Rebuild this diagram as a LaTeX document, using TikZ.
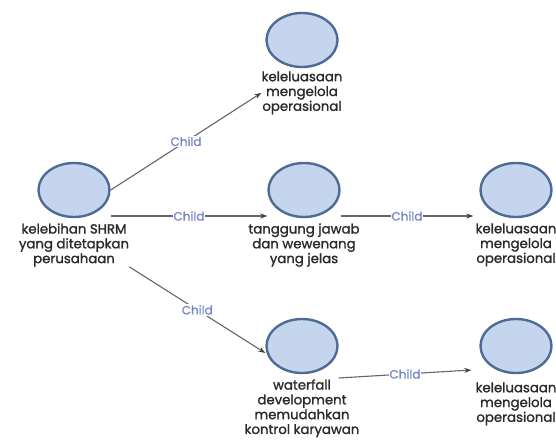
\documentclass[tikz,border=0pt]{standalone}
\usepackage{fontspec}
\setmainfont{Poppins}
\newfontfamily\medfont{Poppins}[FakeBold=1.3]
\newfontfamily\chfont{Poppins}[FakeBold=0.8]
\usetikzlibrary{shapes.geometric,arrows.meta,calc}
\definecolor{efill}{HTML}{C5D5EE}
\definecolor{edraw}{HTML}{4D6B94}
\definecolor{lblue}{HTML}{7585C8}
\definecolor{ltext}{HTML}{2A2A2A}
\definecolor{eline}{HTML}{666666}
\definecolor{ahead}{HTML}{3A463C}
\begin{document}
\begin{tikzpicture}[x=1pt,y=-1pt,
  circ/.style={ellipse, draw=edraw, fill=efill, line width=2.4pt, minimum width=71pt, minimum height=54pt, inner sep=0pt},
  lbl/.style={align=center, inner sep=0pt, text=ltext, font=\medfont\fontsize{13.3}{14.8}\selectfont, anchor=north},
  edge/.style={draw=eline, line width=1.1pt, -{Stealth[length=7pt,width=5pt,color=ahead]}},
  child/.style={fill=white, text=lblue, inner sep=1pt, font=\chfont\fontsize{12}{13}\selectfont}]
\useasboundingbox (0,0) rectangle (556,440);
\fill[white] (0,0) rectangle (556,440);
\node[circ] (e0) at (74,190) {};
\node[lbl] (l0) at ([yshift=-5pt]e0.south) {kelebihan SHRM\\yang ditetapkan\\perusahaan};
\node[circ] (e1) at (302,40) {};
\node[lbl] (l1) at ([yshift=-3pt]e1.south) {keleluasaan\\mengelola\\operasional};
\node[circ] (e2) at (304,190) {};
\node[lbl] (l2) at ([yshift=-5pt]e2.south) {tanggung jawab\\dan wewenang\\yang jelas};
\node[circ] (e3) at (516,190) {};
\node[lbl] (l3) at ([yshift=-5pt]e3.south) {keleluasaan\\mengelola\\operasional};
\node[circ] (e4) at (302,346) {};
\node[lbl] (l4) at ([yshift=-5pt]e4.south) {waterfall\\development\\memudahkan\\kontrol karyawan};
\node[circ] (e5) at (516,346) {};
\node[lbl] (l5) at ([yshift=-8pt]e5.south) {keleluasaan\\mengelola\\operasional};
\draw[edge] (e0.east) -- node[child]{Child} (l1.west);
\draw[edge] ([yshift=-26pt]e0.east) -- node[child]{Child} ([yshift=-26pt]e2.west);
\draw[edge] ([yshift=-26pt]e2.east) -- node[child]{Child} ([yshift=-26pt,xshift=-6pt]e3.west);
\draw[edge] (l0.south east) -- node[child]{Child} ([yshift=-7pt]e4.west);
\draw[edge] ([yshift=-32pt]e4.east) -- node[child]{Child} ([yshift=-24pt,xshift=-8pt]e5.west);
\end{tikzpicture}
\end{document}
